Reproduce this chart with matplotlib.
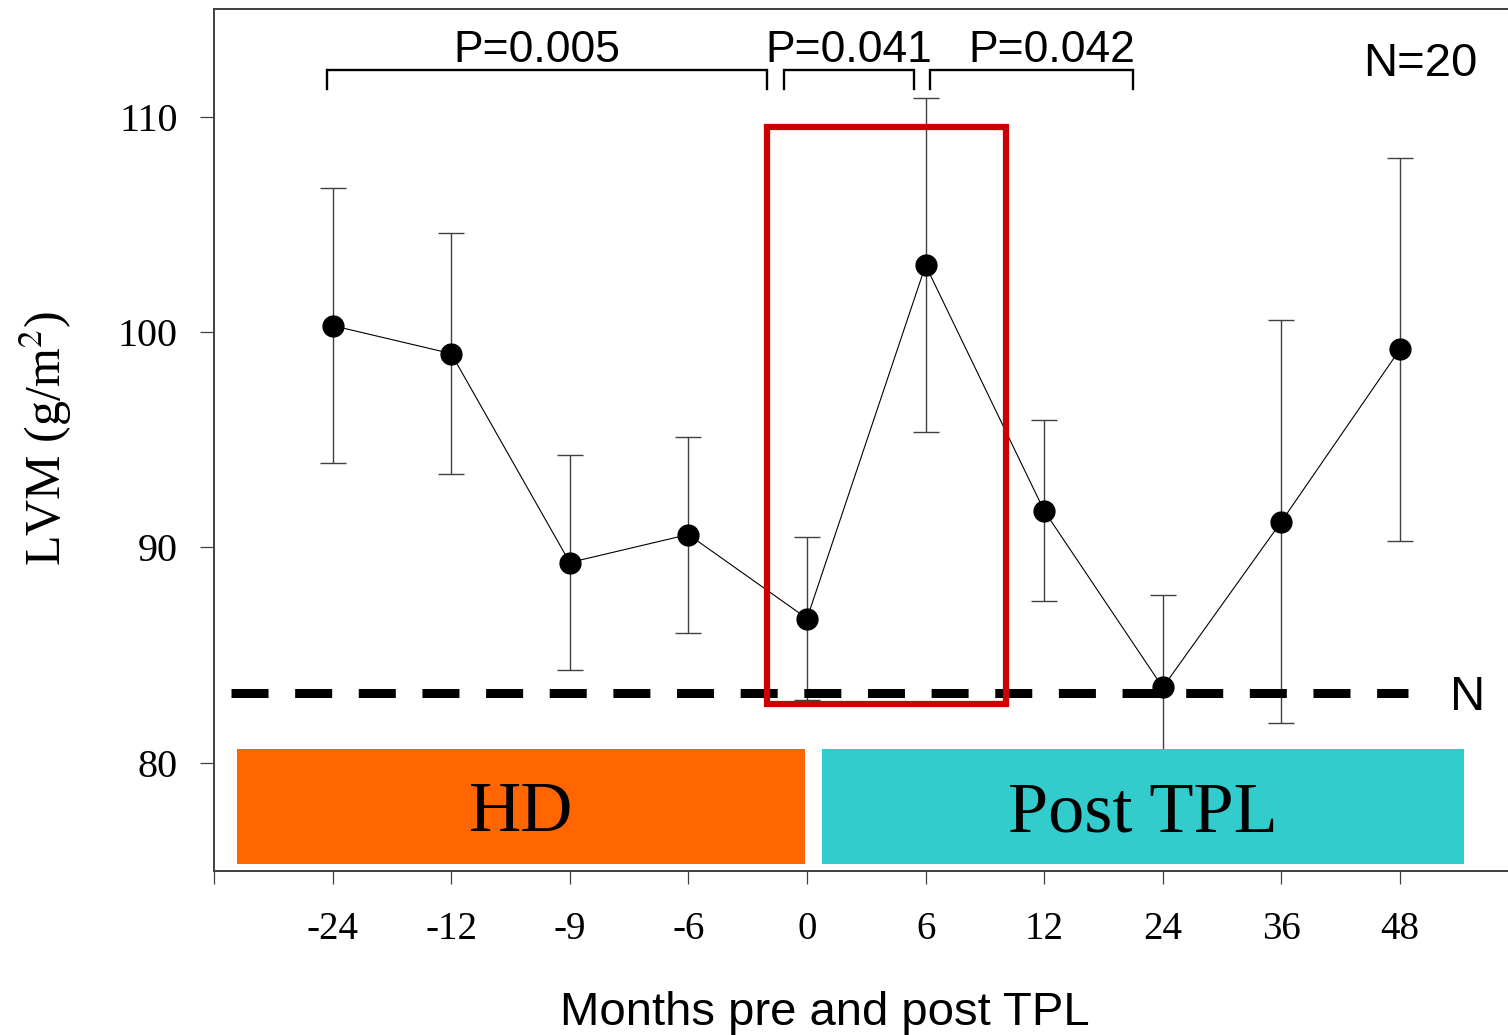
import matplotlib
matplotlib.use("Agg")
import matplotlib.pyplot as plt
from matplotlib.patches import Rectangle

# Data
months = ["-24", "-12", "-9", "-6", "0", "6", "12", "24", "36", "48"]
lvm_mean = [100.3, 99.0, 89.3, 90.6, 86.7, 103.1, 91.7, 83.5, 91.2, 99.2]
lvm_err = [6.4, 5.6, 5.0, 4.55, 3.8, 7.75, 4.2, 4.3, 9.35, 8.9]
normal_lvm = 83.24

p_labels = ["P=0.005", "P=0.041", "P=0.042"]
p_spans = [(-0.05, 3.66), (3.81, 4.90), (5.04, 6.75)]
p_text_x = [1.72, 4.35, 6.06]
n_label = "N=20"

phase_labels = ["HD", "Post TPL"]
phase_spans = [(-0.81, 3.98), (4.13, 9.54)]
phase_colors = ["#FF6600", "#33CCCC"]

plt.rcParams["mathtext.fontset"] = "stix"
serif = "Liberation Serif"
sans = "Liberation Sans"

fig = plt.figure(figsize=(15.08, 10.35), dpi=100)
ax = fig.add_axes([214 / 1508, 1 - 870.5 / 1035, 1294 / 1508, 861.5 / 1035])

x = list(range(len(months)))

# error bars + mean line
ax.errorbar(x, lvm_mean, yerr=lvm_err, fmt="none", ecolor="#404040",
            elinewidth=1.0, capsize=9.6, capthick=1.0, zorder=2)
ax.plot(x, lvm_mean, color="black", linewidth=0.8, zorder=3)

# normal reference line
ax.plot([-0.86, 9.07], [normal_lvm, normal_lvm], color="black", linewidth=6.5,
        dashes=(4.1, 2.95), solid_capstyle="butt", zorder=3)
ax.text(9.57, 82.45, "N", fontsize=35, family=sans, ha="center", va="baseline")

ax.plot(x, lvm_mean, "o", color="black", markersize=15, zorder=5)

# phase boxes
for (x0, x1), lab, col in zip(phase_spans, phase_labels, phase_colors):
    ax.add_patch(Rectangle((x0, 75.3), x1 - x0, 80.65 - 75.3, facecolor=col,
                           edgecolor="none", zorder=4))
    ax.text((x0 + x1) / 2, 76.83, lab, fontsize=52, family=serif,
            ha="center", va="baseline", zorder=6)

# highlight box
ax.add_patch(Rectangle((3.66, 82.74), 2.02, 26.77, facecolor="none",
                       edgecolor="#CC0000", linewidth=4.5, zorder=6))

# significance brackets
for (x0, x1), lab, tx in zip(p_spans, p_labels, p_text_x):
    ax.plot([x0, x0, x1, x1], [111.28, 112.15, 112.15, 111.28],
            color="black", linewidth=1.7, solid_joinstyle="miter", zorder=3)
    ax.text(tx, 112.55, lab, fontsize=32, family=sans, ha="center", va="baseline")
ax.text(9.17, 111.89, n_label, fontsize=34, family=sans, ha="center", va="baseline")

ax.set_xlim(-1, -1 + 1294 / 118.6)
ax.set_ylim(75, 115)
ax.set_xticks([-1] + x)
ax.set_xticklabels([""] + months, fontsize=28, family=serif)
ax.set_yticks([80, 90, 100, 110])
ax.set_yticklabels(["80", "90", "100", "110"], fontsize=29, family=serif)
ax.tick_params(axis="x", length=9.5, width=0.9, color="#404040", pad=20)
ax.tick_params(axis="y", length=10, width=0.9, color="#404040", pad=16)

for side in ["left", "bottom", "top"]:
    ax.spines[side].set_linewidth(1.4)
    ax.spines[side].set_color("#404040")
ax.spines["right"].set_visible(False)

fig.text(825 / 1508, 1 - 1025 / 1035, "Months pre and post TPL", fontsize=34,
         family=sans, ha="center", va="baseline")
fig.text(46 / 1508, 1 - 438 / 1035, "LVM (g/m$^2$)", fontsize=36, family=serif,
         rotation=90, ha="center", va="center")

fig.savefig("out.png", dpi=100)
